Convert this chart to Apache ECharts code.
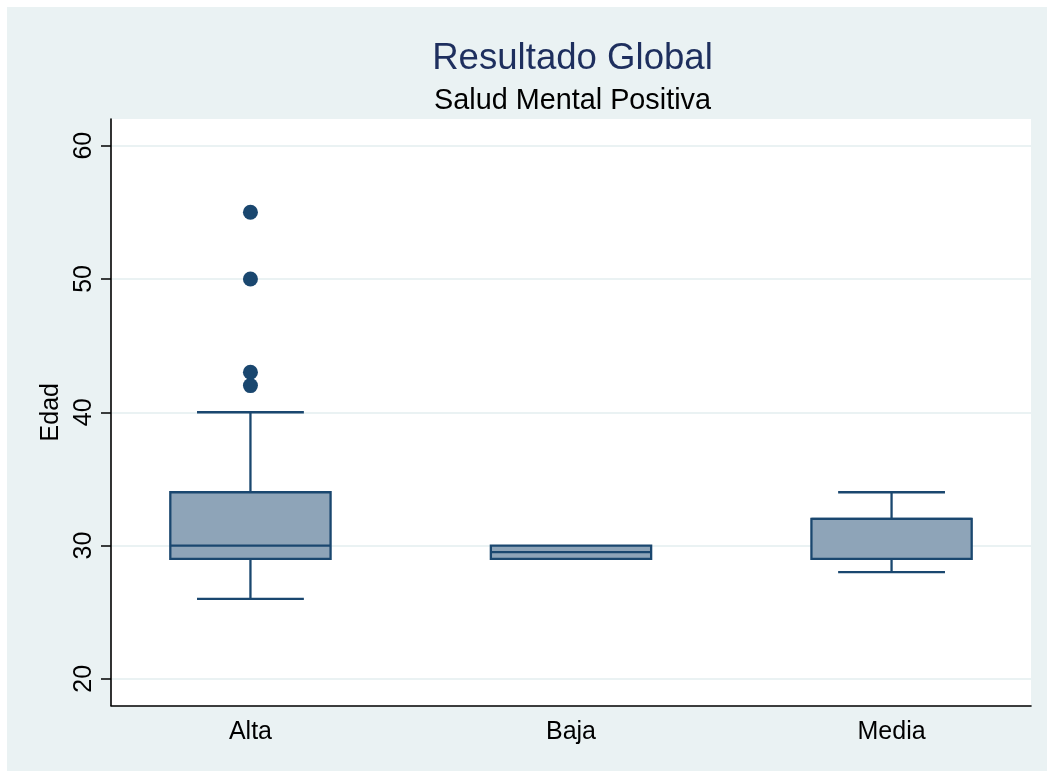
<!DOCTYPE html>
<html>
<head>
<meta charset="utf-8">
<script src="https://cdn.jsdelivr.net/npm/echarts@6/dist/echarts.min.js"></script>
<style>
  html, body { margin: 0; padding: 0; background: #fff; overflow: hidden; }
  #chart { position: absolute; left: 7px; top: 7px; width: 1040px; height: 764px; }
</style>
</head>
<body>
<div id="chart"></div>
<script>
// grupos y resumen de cajas (Edad)
const categories = ["Alta", "Baja", "Media"];
const lowWhisker = [26, 29, 28];
const q1 = [29, 29, 29];
const median = [30, 29.5, 32];
const q3 = [34, 30, 32];
const highWhisker = [40, 30, 34];
// valores atipicos: [indice de grupo, edad]
const outliers = [[0, 55], [0, 50], [0, 43], [0, 42]];
const yTicks = [20, 30, 40, 50, 60];

const navy = "#1A476F";
const boxFill = "#8EA4B8";
const bg = "#EAF2F3";

const chart = echarts.init(document.getElementById("chart"));

const boxData = categories.map((c, i) => [i, lowWhisker[i], q1[i], median[i], q3[i], highWhisker[i]]);

function renderBox(params, api) {
  const i = api.value(0);
  const boxW = api.size([0.5, 0])[0];
  const capW = api.size([1 / 3, 0])[0];
  const pLow = api.coord([i, api.value(1)]);
  const pQ1 = api.coord([i, api.value(2)]);
  const pMed = api.coord([i, api.value(3)]);
  const pQ3 = api.coord([i, api.value(4)]);
  const pHigh = api.coord([i, api.value(5)]);
  const x = pMed[0];
  const lineStyle = { stroke: navy, lineWidth: 2.3 };
  const children = [];
  if (api.value(5) > api.value(4)) {
    children.push({ type: "line", shape: { x1: x, y1: pQ3[1], x2: x, y2: pHigh[1] }, style: lineStyle });
    children.push({ type: "line", shape: { x1: x - capW / 2, y1: pHigh[1], x2: x + capW / 2, y2: pHigh[1] }, style: lineStyle });
  }
  if (api.value(1) < api.value(2)) {
    children.push({ type: "line", shape: { x1: x, y1: pQ1[1], x2: x, y2: pLow[1] }, style: lineStyle });
    children.push({ type: "line", shape: { x1: x - capW / 2, y1: pLow[1], x2: x + capW / 2, y2: pLow[1] }, style: lineStyle });
  }
  children.push({
    type: "rect",
    shape: { x: x - boxW / 2, y: pQ3[1], width: boxW, height: pQ1[1] - pQ3[1] },
    style: { fill: boxFill, stroke: navy, lineWidth: 2.3 }
  });
  children.push({ type: "line", shape: { x1: x - boxW / 2, y1: pMed[1], x2: x + boxW / 2, y2: pMed[1] }, style: lineStyle });
  return { type: "group", children: children };
}

const option = {
  backgroundColor: bg,
  animation: false,
  textStyle: { fontFamily: "Liberation Sans, Arial, sans-serif" },
  title: [
    {
      text: "Resultado Global",
      left: 560.5,
      top: 28,
      textAlign: "center",
      textStyle: { fontSize: 36.6, fontWeight: "normal", color: "#1E2F5E", fontFamily: "Liberation Sans" }
    },
    {
      text: "Salud Mental Positiva",
      left: 560.5,
      top: 75,
      textAlign: "center",
      textStyle: { fontSize: 28.8, fontWeight: "normal", color: "#000", fontFamily: "Liberation Sans" }
    }
  ],
  grid: {
    left: 104,
    right: 16,
    top: 112,
    bottom: 65.5,
    show: true,
    backgroundColor: "#fff",
    borderWidth: 0
  },
  xAxis: {
    type: "value",
    min: -0.435,
    max: 2.435,
    axisLine: { show: true, onZero: false, lineStyle: { color: "#000", width: 1.6 } },
    axisTick: { show: false },
    splitLine: { show: false },
    axisLabel: {
      customValues: [0, 1, 2],
      formatter: (v) => categories[Math.round(v)],
      fontSize: 25,
      color: "#000",
      margin: 14
    }
  },
  yAxis: {
    type: "value",
    min: 18,
    max: 62,
    name: "Edad",
    nameLocation: "middle",
    nameGap: 42,
    nameTextStyle: { fontSize: 25, color: "#000" },
    axisLine: { show: true, onZero: false, lineStyle: { color: "#000", width: 1.6 } },
    axisTick: { show: true, customValues: yTicks, length: 10, lineStyle: { color: "#000", width: 1.5 } },
    axisLabel: { customValues: yTicks, rotate: 90, fontSize: 25, color: "#000", margin: 14 },
    splitLine: { show: true, lineStyle: { color: bg, width: 2 } }
  },
  series: [
    {
      type: "custom",
      renderItem: renderBox,
      data: boxData,
      encode: { x: 0, y: [1, 2, 3, 4, 5] },
      clip: false,
      z: 3
    },
    {
      type: "scatter",
      data: outliers,
      symbolSize: 15,
      itemStyle: { color: navy, opacity: 1 },
      z: 4
    }
  ]
};

chart.setOption(option);
</script>
</body>
</html>
